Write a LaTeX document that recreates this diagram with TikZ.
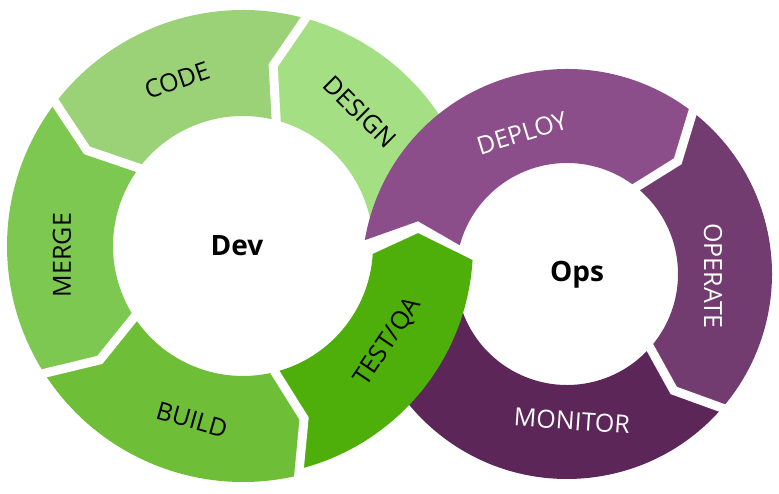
\documentclass[tikz,border=0pt]{standalone}
\usepackage{fontspec}
\setmainfont{Open Sans}
\usepackage{tikz}

\definecolor{designgreen}{HTML}{A5DF83}
\definecolor{codegreen}{HTML}{9BD278}
\definecolor{mergegreen}{HTML}{7DC850}
\definecolor{buildgreen}{HTML}{6EBE37}
\definecolor{testgreen}{HTML}{4EAF0A}
\definecolor{deploypurple}{HTML}{8C4E8A}
\definecolor{operatepurple}{HTML}{733C70}
\definecolor{monitorpurple}{HTML}{5C2658}

\begin{document}
\begin{tikzpicture}[x=1pt,y=1pt,
  devlabel/.style={font=\fontsize{25}{30}\selectfont,text=black},
  opslabel/.style={font=\fontsize{25}{30}\selectfont,text=white},
  hub/.style={font=\fontsize{28}{34}\selectfont\bfseries},
  gap/.style={draw=white,line width=9pt,line join=miter}]
\useasboundingbox (0,0) rectangle (779,494);
\coordinate (devc) at (243,248);
\coordinate (opsc) at (567,220);

\fill[designgreen,shift={(devc)}] (10:236) arc[start angle=10,end angle=74,radius=236] -- (80.5:183) -- (74:130) arc[start angle=74,end angle=10,radius=130] -- cycle;
\fill[codegreen,shift={(devc)}] (74:236) arc[start angle=74,end angle=142,radius=236] -- (148.5:183) -- (142:130) arc[start angle=142,end angle=74,radius=130] -- (80.5:183) -- cycle;
\fill[mergegreen,shift={(devc)}] (142:236) arc[start angle=142,end angle=212,radius=236] -- (218.5:183) -- (212:130) arc[start angle=212,end angle=142,radius=130] -- (148.5:183) -- cycle;
\fill[buildgreen,shift={(devc)}] (212:236) arc[start angle=212,end angle=283,radius=236] -- (289.5:183) -- (283:130) arc[start angle=283,end angle=212,radius=130] -- (218.5:183) -- cycle;
\draw[gap,shift={(devc)}] (74:244) -- (80.5:183) -- (74:122);
\draw[gap,shift={(devc)}] (142:244) -- (148.5:183) -- (142:122);
\draw[gap,shift={(devc)}] (212:244) -- (218.5:183) -- (212:122);

\fill[deploypurple,shift={(opsc)}] (53:205) arc[start angle=53,end angle=170.5,radius=205] -- (160.5:158) -- (165:111) arc[start angle=165,end angle=53,radius=111] -- (45.5:158) -- cycle;
\fill[operatepurple,shift={(opsc)}] (53:205) arc[start angle=53,end angle=-40,radius=205] -- (-47.5:158) -- (-40:111) arc[start angle=-40,end angle=53,radius=111] -- (45.5:158) -- cycle;
\fill[monitorpurple,shift={(opsc)}] (-40:205) arc[start angle=-40,end angle=-165,radius=205] -- (-165:111) arc[start angle=-165,end angle=-40,radius=111] -- (-47.5:158) -- cycle;
\draw[gap,shift={(opsc)}] (53:213) -- (45.5:158) -- (53:103);
\draw[gap,shift={(opsc)}] (-40:213) -- (-47.5:158) -- (-40:103);

\fill[testgreen,shift={(devc)}] (283:230) arc[start angle=283,end angle=356.5,radius=230] -- (364.2:175.5) -- (356.5:130) arc[start angle=356.5,end angle=283,radius=130] -- (289.5:183) -- cycle;
\draw[gap,shift={(devc)}] (283:244) -- (289.5:183) -- (283:122);

\node[devlabel,rotate=19] (code) at (177,414) {CODE};
\node[devlabel,rotate=-45] (design) at (360,382) {DESIGN};
\node[devlabel,rotate=90] (merge) at (62,239) {MERGE};
\node[devlabel,rotate=-16] (build) at (192,74) {BUILD};
\node[devlabel,rotate=56] (test) at (388,152) {TEST/QA};
\node[opslabel,rotate=17] (deploy) at (522,361) {DEPLOY};
\node[opslabel,rotate=-90] (operate) at (713,218) {OPERATE};
\node[opslabel,rotate=-4] (monitor) at (572,73) {MONITOR};
\node[hub] (dev) at (237,248) {Dev};
\node[hub] (ops) at (577,219) {Ops};
\end{tikzpicture}
\end{document}
